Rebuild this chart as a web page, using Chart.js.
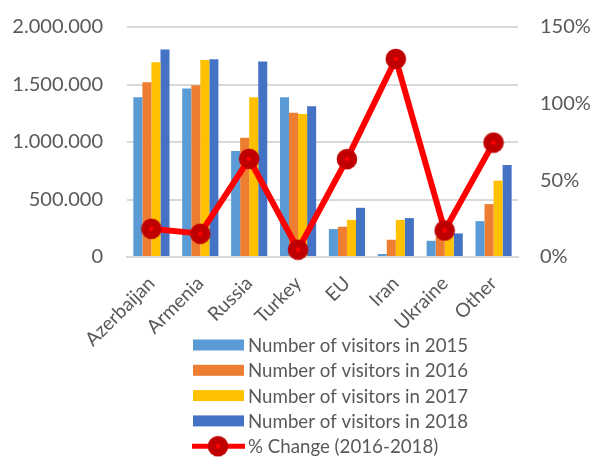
<!DOCTYPE html>
<html>
<head>
<meta charset="utf-8">
<script src="https://cdn.jsdelivr.net/npm/chart.js@4.4.0/dist/chart.umd.min.js"></script>
<style>
html,body{margin:0;padding:0;background:#fff;}
canvas{display:block;}
</style>
</head>
<body>
<canvas id="c" width="593" height="457"></canvas>
<script>
const categories = ["Azerbaijan","Armenia","Russia","Turkey","EU","Iran","Ukraine","Other"];
const visitors2015 = [1390000,1466000,922000,1390000,243000,26000,141000,312000];
const visitors2016 = [1520000,1494000,1037000,1254000,263000,150000,175000,460000];
const visitors2017 = [1694000,1714000,1390000,1243000,323000,323000,195000,664000];
const visitors2018 = [1804000,1720000,1700000,1310000,428000,338000,205000,800000];
const pctChange = [18.4,15.2,64,4.8,63.8,129.2,17.3,74.6];
const leftTicks = [0,500000,1000000,1500000,2000000];
const rightTicks = [0,50,100,150];
const seriesLabels = ["Number of visitors in 2015","Number of visitors in 2016","Number of visitors in 2017","Number of visitors in 2018","% Change (2016-2018)"];

const FONT = "Lato, 'Open Sans', sans-serif";
const TXT = "#595959";

// marker image
const mk = document.createElement('canvas');
mk.width = 22; mk.height = 22;
{
  const g = mk.getContext('2d');
  g.fillStyle = '#C00000';
  g.beginPath(); g.arc(11,11,10.3,0,Math.PI*2); g.fill();
  g.fillStyle = '#FF0000';
  g.beginPath(); g.arc(11,11,2.2,0,Math.PI*2); g.fill();
}

function fmtDots(v){ return String(v).replace(/\B(?=(\d{3})+(?!\d))/g,'.'); }

const legendPlugin = {
  id: 'customLegend',
  afterDraw(chart){
    const ctx = chart.ctx;
    const ds = chart.data.datasets;
    const x0 = 193, y0 = 345, step = 25.3;
    ctx.save();
    ctx.font = "18.7px " + FONT;
    ctx.fillStyle = TXT;
    ctx.textBaseline = 'middle';
    const order = [0,1,2,3,4];
    order.forEach((di,i)=>{
      const d = ds[di];
      const y = y0 + i*step;
      if (d.type === 'line') {
        ctx.strokeStyle = d.borderColor;
        ctx.lineWidth = 5;
        ctx.beginPath(); ctx.moveTo(x0-1,y); ctx.lineTo(x0+52,y); ctx.stroke();
        ctx.drawImage(mk, x0+25-11, y-11);
      } else {
        ctx.fillStyle = d.backgroundColor;
        ctx.fillRect(x0, y-5.5, 51, 11);
      }
      ctx.fillStyle = TXT;
      ctx.fillText(d.label, x0+55, y+1);
    });
    ctx.restore();
  }
};

function noVPad(s){ s.paddingTop = 0; s.paddingBottom = 0; }

new Chart(document.getElementById('c'), {
  data: {
    labels: categories,
    datasets: [
      {type:'bar', label: seriesLabels[0], data: visitors2015, backgroundColor:'#5B9BD5', yAxisID:'y', order:1},
      {type:'bar', label: seriesLabels[1], data: visitors2016, backgroundColor:'#ED7D31', yAxisID:'y', order:1},
      {type:'bar', label: seriesLabels[2], data: visitors2017, backgroundColor:'#FFC000', yAxisID:'y', order:1},
      {type:'bar', label: seriesLabels[3], data: visitors2018, backgroundColor:'#4472C4', yAxisID:'y', order:1},
      {type:'line', label: seriesLabels[4], data: pctChange, borderColor:'#FF0000', backgroundColor:'#C00000',
       borderWidth:6, tension:0, pointStyle: mk, pointRadius:10, yAxisID:'y1', order:0, clip:false}
    ]
  },
  options: {
    responsive:false,
    animation:false,
    events:[],
    datasets:{ bar:{ categoryPercentage:0.74, barPercentage:1.0 } },
    layout:{ padding:{ top:27, bottom:110, left:0, right:0 } },
    plugins:{ legend:{display:false}, tooltip:{enabled:false} },
    scales:{
      x:{
        grid:{ display:false, drawTicks:false },
        border:{ display:true, color:'#D9D9D9', width:2 },
        ticks:{ color:TXT, font:{family:FONT,size:19.3}, minRotation:45, maxRotation:45, padding:15, autoSkip:false },
        afterFit(s){ s.height = 90; s.paddingLeft = 0; s.paddingRight = 0; }
      },
      y:{
        position:'left', min:0, max:2000000,
        afterBuildTicks(s){ s.ticks = leftTicks.map(v=>({value:v})); },
        grid:{ color:'#D9D9D9', lineWidth:2, drawTicks:false },
        border:{ display:false },
        ticks:{ color:TXT, font:{family:FONT,size:20}, padding:24, callback:(v)=>fmtDots(v) },
        afterFit(s){ s.width = 127; noVPad(s); }
      },
      y1:{
        position:'right', min:0, max:150,
        afterBuildTicks(s){ s.ticks = rightTicks.map(v=>({value:v})); },
        grid:{ display:false, drawTicks:false },
        border:{ display:false },
        ticks:{ color:TXT, font:{family:FONT,size:20}, padding:22, callback:(v)=>v+'%' },
        afterFit(s){ s.width = 75; noVPad(s); }
      }
    }
  },
  plugins:[legendPlugin]
});
</script>
</body>
</html>
